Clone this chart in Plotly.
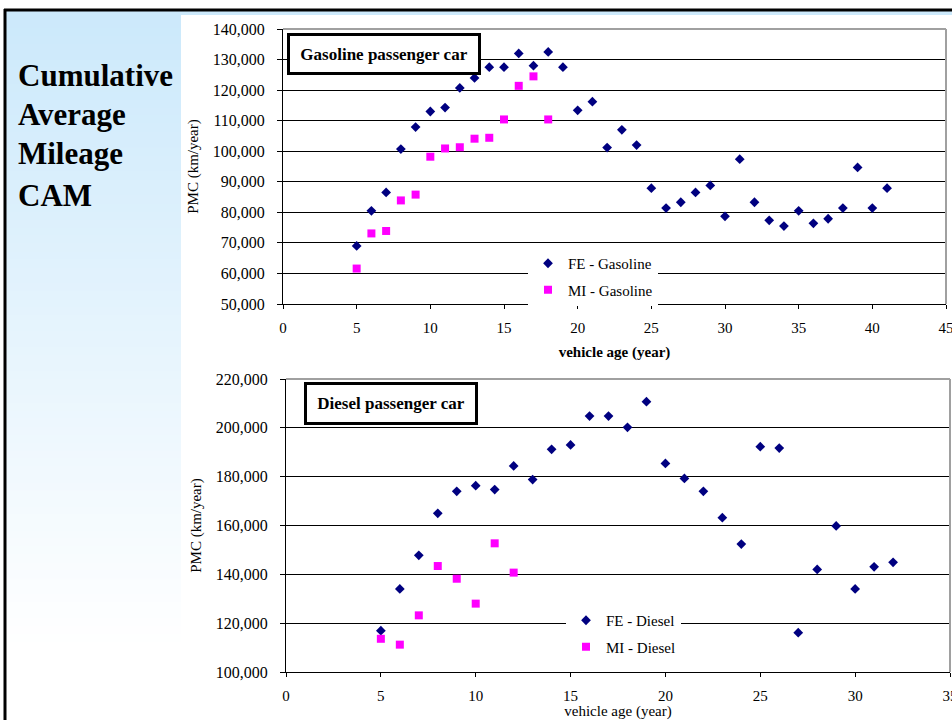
import plotly.graph_objects as go

W, H = 952, 720

# ---------------- data ----------------
gas_age_fe = list(range(5, 42))
gas_fe = [69000, 80500, 86500, 100700, 107900, 113000, 114300, 120700, 124000, 127500,
          127500, 132000, 128000, 132500, 127500, 113400, 116200, 101200, 107000, 102000,
          87900, 81400, 83300, 86500, 88800, 78700, 97400, 83300, 77400, 75500,
          80500, 76400, 77900, 81400, 94700, 81400, 87900]
gas_age_mi = list(range(5, 19))
gas_mi = [61600, 73100, 73900, 83900, 85800, 98200, 100900, 101300, 104100, 104400,
          110400, 121400, 124500, 110400]

dsl_age_fe = list(range(5, 33))
dsl_fe = [116900, 134000, 147800, 165000, 174000, 176300, 174700, 184400, 178800, 191200,
          193000, 204800, 204800, 200200, 210700, 185400, 179300, 174000, 163200, 152400,
          192300, 191700, 116100, 142000, 159800, 134000, 143100, 144900]
dsl_age_mi = list(range(5, 13))
dsl_mi = [113600, 111200, 123200, 143400, 138200, 128000, 152700, 140700]

names = ["FE - Gasoline", "MI - Gasoline", "FE - Diesel", "MI - Diesel"]
panel_lines = ["Cumulative", "Average", "Mileage", "CAM"]
chart_titles = ["Gasoline passenger car", "Diesel passenger car"]
x_title = "vehicle age (year)"
y_title = "PMC (km/year)"

# ---------------- helpers ----------------
def px(x):
    return x / W

def py(y):
    return 1 - y / H

FONT = "Liberation Serif, Times New Roman, serif"
NAVY = "#000080"
MAG = "#FF00FF"

fig = go.Figure()

fig.add_trace(go.Scatter(x=gas_age_fe, y=gas_fe, mode="markers", name=names[0],
                         marker=dict(symbol="diamond", size=7.5, color=NAVY),
                         xaxis="x", yaxis="y", legend="legend", legendgroup="a"))
fig.add_trace(go.Scatter(x=gas_age_mi, y=gas_mi, mode="markers", name=names[1],
                         marker=dict(symbol="square", size=8, color=MAG),
                         xaxis="x", yaxis="y", legend="legend", legendgroup="b"))
fig.add_trace(go.Scatter(x=dsl_age_fe, y=dsl_fe, mode="markers", name=names[2],
                         marker=dict(symbol="diamond", size=7.5, color=NAVY),
                         xaxis="x2", yaxis="y2", legend="legend2", legendgroup="c"))
fig.add_trace(go.Scatter(x=dsl_age_mi, y=dsl_mi, mode="markers", name=names[3],
                         marker=dict(symbol="square", size=8, color=MAG),
                         xaxis="x2", yaxis="y2", legend="legend2", legendgroup="d"))

xtickfont = dict(family=FONT, size=15, color="black")
ytickfont = dict(family=FONT, size=16, color="black")

common_x = dict(showgrid=False, zeroline=False, showline=True, linecolor="black",
                linewidth=1, ticks="outside", ticklen=4, tickcolor="black",
                tickfont=xtickfont, dtick=5, tick0=0, ticklabelstandoff=6, automargin=False,
                ticklabeloverflow="allow")
common_y = dict(showgrid=True, gridcolor="black", gridwidth=1, zeroline=False,
                showline=True, linecolor="black", linewidth=1, ticks="outside",
                ticklen=5, tickcolor="black", tickfont=ytickfont, tickformat=",d",
                ticklabelstandoff=9, automargin=False)

# plot area pixel boxes
top_box = (283, 946, 29, 304)
bot_box = (286, 950, 379, 672)

fig.update_layout(
    width=W, height=H,
    margin=dict(l=0, r=0, t=0, b=0, pad=0, autoexpand=False),
    paper_bgcolor="white", plot_bgcolor="white",
    showlegend=True,
    xaxis=dict(domain=[px(top_box[0]), px(top_box[1])], range=[0, 45], anchor="y",
               title=dict(text="<b>" + x_title + "</b>", font=dict(family=FONT, size=15, color="black"),
                          standoff=11),
               **common_x),
    yaxis=dict(domain=[py(top_box[3]), py(top_box[2])], range=[50000, 140000], dtick=10000,
               anchor="x",
               title=dict(text=y_title, font=dict(family=FONT, size=15, color="black"), standoff=10),
               **common_y),
    xaxis2=dict(domain=[px(bot_box[0]), px(bot_box[1])], range=[0, 35], anchor="y2",
                title=dict(text=x_title, font=dict(family=FONT, size=15, color="black"), standoff=0),
                **common_x),
    yaxis2=dict(domain=[py(bot_box[3]), py(bot_box[2])], range=[100000, 220000], dtick=20000,
                anchor="x2",
                title=dict(text=y_title, font=dict(family=FONT, size=15, color="black"), standoff=10),
                **common_y),
    legend=dict(x=px(528), y=py(247), xanchor="left", yanchor="top", bgcolor="white",
                borderwidth=0, font=dict(family=FONT, size=15, color="black"),
                traceorder="grouped", tracegroupgap=4, itemwidth=30),
    legend2=dict(x=px(566), y=py(604), xanchor="left", yanchor="top", bgcolor="white",
                 borderwidth=0, font=dict(family=FONT, size=15, color="black"),
                 traceorder="grouped", tracegroupgap=4, itemwidth=30),
)

shapes = []
# left gradient panel
n = 80
y0, y1 = 12, 650
c0 = (204, 233, 251)
for i in range(n):
    t = i / (n - 1)
    col = tuple(int(round(c0[k] + (255 - c0[k]) * t)) for k in range(3))
    ya = y0 + (y1 - y0) * i / n
    yb = y0 + (y1 - y0) * (i + 1) / n + 1
    shapes.append(dict(type="rect", xref="paper", yref="paper", x0=px(6), x1=px(181),
                       y0=py(ya), y1=py(yb), fillcolor="rgb(%d,%d,%d)" % col,
                       line=dict(width=0), layer="below"))
# top light-blue band
shapes.append(dict(type="rect", xref="paper", yref="paper", x0=px(6), x1=1, y0=py(15), y1=py(11),
                   fillcolor="rgb(204,233,251)", line=dict(width=0), layer="below"))
# outer black frame lines (top & left)
shapes.append(dict(type="line", xref="paper", yref="paper", x0=px(4), x1=1, y0=py(10), y1=py(10),
                   line=dict(color="black", width=3)))
shapes.append(dict(type="line", xref="paper", yref="paper", x0=px(5), x1=px(5), y0=py(9), y1=0,
                   line=dict(color="black", width=3)))
# gray plot borders (top & right)
for (xa, ya) in [("x domain", "y domain"), ("x2 domain", "y2 domain")]:
    shapes.append(dict(type="line", xref=xa, yref=ya, x0=0, x1=1, y0=1, y1=1,
                       line=dict(color="#a0a0a0", width=2), layer="above"))
    shapes.append(dict(type="line", xref=xa, yref=ya, x0=1, x1=1, y0=0, y1=1,
                       line=dict(color="#a0a0a0", width=2), layer="above"))
fig.update_layout(shapes=shapes)

ann = []
centers = [76, 115, 153, 196]
for txt, cy in zip(panel_lines, centers):
    ann.append(dict(text="<b>" + txt + "</b>", xref="paper", yref="paper", x=px(16), y=py(cy),
                    xanchor="left", yanchor="middle", showarrow=False,
                    font=dict(family=FONT, size=31, color="black")))
# chart title boxes
ann.append(dict(text="<b>" + chart_titles[0] + "</b>", xref="paper", yref="paper",
                x=px(287), y=py(33), xanchor="left", yanchor="top", showarrow=False,
                font=dict(family=FONT, size=17, color="black"), bgcolor="white",
                bordercolor="black", borderwidth=3, borderpad=4, width=180, height=28))
ann.append(dict(text="<b>" + chart_titles[1] + "</b>", xref="paper", yref="paper",
                x=px(304), y=py(382), xanchor="left", yanchor="top", showarrow=False,
                font=dict(family=FONT, size=17, color="black"), bgcolor="white",
                bordercolor="black", borderwidth=3, borderpad=4, width=160, height=29))
fig.update_layout(annotations=ann)

fig.write_html("out.html", config={"displayModeBar": False},
               post_script="document.body.style.margin='0';document.body.style.overflow='hidden';")
